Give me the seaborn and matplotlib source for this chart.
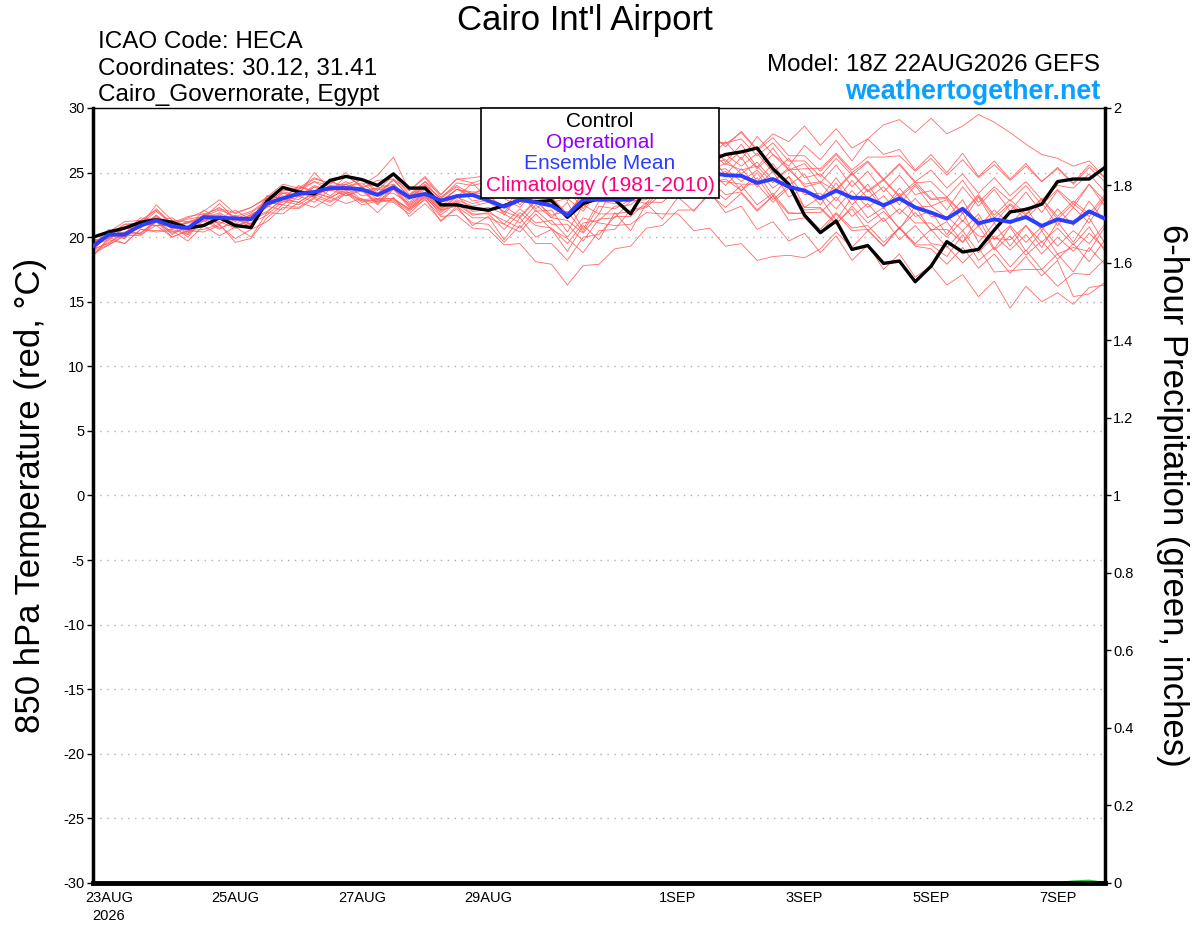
import pandas as pd
import matplotlib
matplotlib.use('Agg')
import matplotlib.pyplot as plt
from matplotlib.patches import Rectangle
import seaborn as sns

# 6-hourly GEFS run, 18Z 22AUG2026 out to 16 days
times = pd.date_range('2026-08-22 18:00', periods=65, freq='6h')

control = [20.0, 20.4, 20.7, 21.15, 21.35, 21.15, 20.7, 20.9, 21.5, 20.9, 20.75, 22.8, 23.85,
           23.5, 23.35, 24.4, 24.7, 24.46, 24.0, 24.9, 23.8, 23.8, 22.5, 22.5, 22.26, 22.08,
           22.44, 22.88, 22.75, 22.83, 21.54, 22.6, 23.0, 22.9, 21.8, 23.8, 24.6, 25.2, 25.6,
           25.9, 26.4, 26.6, 26.9, 25.3, 24.1, 21.7, 20.35, 21.25, 19.05, 19.35, 17.97, 18.15,
           16.55, 17.75, 19.65, 18.85, 19.05, 20.55, 21.95, 22.15, 22.55, 24.3, 24.5, 24.5, 25.4]

ens_mean = [19.3, 20.2, 20.2, 20.9, 21.3, 20.85, 20.7, 21.55, 21.5, 21.45, 21.4, 22.6, 23.0,
            23.35, 23.5, 23.8, 23.8, 23.7, 23.27, 23.86, 23.1, 23.35, 22.83, 23.17, 23.27, 22.83,
            22.36, 22.88, 22.7, 22.44, 21.7, 22.9, 22.9, 22.9, 22.9, 23.6, 24.2, 24.7, 25.0,
            25.0, 24.8, 24.75, 24.2, 24.5, 23.9, 23.6, 23.0, 23.6, 23.06, 23.0, 22.47, 23.0,
            22.3, 21.9, 21.43, 22.2, 21.07, 21.38, 21.18, 21.56, 20.87, 21.38, 21.12, 22.0, 21.43]

members = {
    'm01': [19.0, 20.3, 20.2, 21.3, 21.5, 20.8, 21.1, 21.7, 22.3, 21.4, 21.6, 22.5, 23.6,
            23.7, 24.5, 24.2, 24.8, 23.9, 24.1, 23.8, 23.2, 24.3, 22.8, 23.1, 24.2, 22.9,
            23.4, 24.6, 23.3, 24.5, 22.8, 24.9, 23.7, 25.6, 24.3, 26.2, 25.0, 26.9, 27.5,
            26.1, 27.4, 26.0, 27.8, 26.4, 25.5, 27.1, 26.0, 27.5, 25.9, 27.6, 28.7, 29.1,
            28.1, 29.2, 28.0, 28.6, 29.5, 28.9, 28.1, 27.2, 26.4, 26.1, 25.5, 25.9, 24.6],
    'm02': [18.7, 19.4, 20.2, 20.1, 21.2, 20.0, 20.5, 20.4, 20.9, 19.9, 20.6, 21.2, 22.3,
            22.2, 23.0, 22.4, 23.4, 22.5, 22.8, 22.7, 21.8, 23.0, 21.2, 22.4, 20.9, 21.6,
            19.8, 21.5, 20.0, 20.6, 18.9, 20.9, 19.8, 21.9, 20.5, 22.6, 21.4, 23.1, 22.0,
            23.5, 21.9, 22.4, 20.6, 21.2, 19.7, 20.3, 18.8, 20.1, 18.2, 19.4, 17.5, 18.7,
            16.9, 17.8, 16.3, 17.1, 15.4, 16.6, 14.5, 16.2, 15.0, 15.7, 14.8, 16.1, 16.3],
    'm03': [19.6, 20.2, 21.0, 21.1, 22.2, 21.0, 21.5, 22.0, 22.9, 21.8, 22.3, 23.1, 24.1,
            23.8, 24.6, 24.1, 25.0, 23.8, 24.4, 24.5, 23.6, 24.6, 23.1, 24.0, 23.3, 23.5,
            21.7, 23.4, 22.0, 22.1, 20.4, 22.5, 21.8, 24.1, 23.5, 25.3, 24.6, 26.3, 24.9,
            26.4, 24.8, 26.2, 24.3, 25.7, 24.0, 24.9, 23.0, 24.6, 22.9, 24.1, 22.3, 23.4,
            21.6, 22.0, 20.2, 21.9, 19.6, 21.1, 19.3, 20.9, 19.2, 21.2, 19.6, 21.5, 19.5],
    'm04': [18.5, 20.0, 19.5, 20.6, 20.5, 20.6, 20.2, 21.3, 20.6, 21.4, 21.0, 22.4, 22.1,
            23.2, 22.7, 23.7, 23.2, 23.6, 22.5, 23.7, 22.3, 23.3, 22.0, 22.9, 22.4, 22.7,
            22.0, 21.5, 22.8, 21.7, 22.0, 20.4, 22.4, 22.2, 22.9, 22.6, 24.2, 23.7, 25.0,
            24.4, 25.1, 23.6, 25.0, 23.2, 24.7, 22.3, 23.1, 21.3, 23.1, 21.5, 22.3, 20.6,
            22.4, 20.5, 21.2, 19.6, 21.5, 19.1, 20.8, 18.9, 20.5, 18.7, 19.2, 18.9, 20.8],
    'm05': [19.9, 20.4, 21.2, 21.3, 22.1, 21.1, 21.6, 21.8, 22.2, 21.9, 22.3, 23.0, 23.9,
            23.7, 24.3, 23.6, 24.7, 24.0, 24.8, 26.2, 23.6, 24.7, 23.3, 24.5, 24.2, 24.6,
            23.4, 24.7, 23.4, 24.5, 23.1, 24.9, 24.4, 26.0, 24.6, 26.1, 25.6, 27.3, 26.0,
            27.4, 25.8, 27.2, 25.4, 26.9, 25.2, 25.7, 24.2, 25.6, 23.9, 25.1, 23.5, 24.8,
            23.3, 23.6, 22.1, 23.9, 22.4, 23.7, 22.0, 23.5, 21.9, 23.6, 22.3, 24.1, 22.4],
    'm06': [19.1, 20.1, 19.9, 21.0, 20.9, 20.9, 20.0, 21.5, 20.7, 21.1, 20.6, 22.7, 22.5,
            23.4, 23.1, 23.9, 23.4, 23.7, 22.6, 23.8, 22.4, 23.4, 22.1, 23.1, 22.6, 22.9,
            22.4, 21.6, 22.9, 21.5, 22.7, 20.6, 22.8, 22.6, 23.0, 23.1, 24.4, 24.2, 25.5,
            25.2, 25.7, 25.2, 25.5, 24.2, 25.4, 23.9, 24.2, 22.8, 24.4, 23.0, 23.9, 22.5,
            24.0, 22.4, 22.9, 21.2, 23.1, 21.1, 22.5, 21.4, 22.7, 20.9, 22.3, 21.1, 23.0],
    'm07': [19.5, 20.0, 20.3, 20.9, 22.5, 21.3, 21.2, 21.5, 22.6, 21.4, 21.9, 22.7, 23.5,
            23.3, 25.0, 23.7, 24.3, 23.6, 23.8, 24.1, 23.0, 24.0, 22.7, 23.7, 23.2, 23.2,
            22.3, 23.6, 22.6, 22.8, 21.7, 23.5, 23.2, 23.5, 23.7, 24.8, 24.8, 26.0, 24.9,
            25.2, 24.0, 25.3, 23.9, 25.1, 23.1, 23.8, 22.5, 24.2, 22.5, 23.7, 22.2, 23.8,
            22.3, 22.4, 21.5, 22.9, 20.8, 22.1, 21.0, 22.3, 20.5, 22.2, 20.9, 22.8, 21.2],
    'm08': [19.0, 19.6, 20.3, 20.3, 21.3, 20.4, 20.7, 21.0, 21.4, 20.9, 21.3, 21.9, 23.0,
            22.7, 23.5, 23.0, 23.8, 22.9, 23.0, 23.0, 22.1, 22.9, 21.6, 21.7, 20.7, 20.6,
            19.4, 19.5, 18.1, 17.9, 16.3, 17.8, 17.9, 19.1, 19.3, 20.7, 20.9, 22.1, 22.1,
            23.3, 22.3, 23.4, 22.0, 23.2, 21.8, 21.9, 21.9, 23.1, 21.6, 22.6, 21.2, 22.2,
            21.1, 21.1, 20.0, 21.3, 20.1, 19.9, 19.8, 20.9, 19.6, 20.7, 19.4, 20.8, 18.9],
    'm09': [19.6, 20.1, 20.8, 20.8, 21.7, 20.8, 21.2, 21.4, 21.9, 21.2, 21.7, 22.4, 23.4,
            23.2, 24.0, 23.6, 23.9, 23.5, 23.7, 23.7, 22.9, 23.8, 22.8, 23.7, 23.4, 23.8,
            23.6, 22.5, 23.9, 22.8, 23.7, 22.2, 23.9, 23.6, 24.7, 24.6, 25.7, 25.5, 26.5,
            25.7, 26.0, 24.9, 25.8, 24.4, 25.2, 24.1, 24.3, 23.6, 24.9, 23.5, 24.4, 23.1,
            24.1, 22.9, 23.0, 21.8, 23.2, 21.5, 22.6, 21.7, 22.9, 21.4, 22.6, 21.6, 23.1],
    'm10': [18.9, 19.4, 20.1, 20.2, 20.9, 20.0, 20.5, 20.6, 21.0, 19.6, 19.9, 21.5, 22.5,
            22.3, 23.1, 22.7, 23.4, 22.7, 22.9, 22.8, 22.0, 23.2, 21.7, 22.7, 21.8, 21.8,
            20.6, 21.9, 20.9, 20.7, 19.5, 21.1, 21.3, 22.4, 22.5, 23.5, 23.1, 24.2, 24.0,
            24.4, 23.3, 23.5, 22.1, 23.2, 21.3, 21.5, 20.3, 21.8, 20.5, 20.6, 19.3, 20.8,
            19.4, 19.4, 18.5, 20.2, 18.2, 19.2, 17.7, 19.0, 17.5, 18.7, 17.3, 19.2, 17.9],
    'm11': [19.2, 20.4, 20.0, 21.1, 20.9, 21.1, 20.3, 21.7, 21.0, 21.7, 21.0, 22.8, 22.7,
            23.6, 23.2, 24.0, 23.6, 23.9, 22.9, 24.1, 22.7, 23.7, 22.4, 23.3, 23.2, 24.2,
            23.9, 24.9, 23.8, 24.8, 23.6, 25.1, 25.1, 26.2, 26.0, 27.1, 27.1, 28.2, 27.7,
            27.5, 27.2, 28.1, 26.7, 27.7, 26.3, 26.3, 25.1, 26.4, 25.0, 25.9, 24.5, 25.7,
            24.3, 25.2, 23.8, 24.9, 23.4, 24.6, 23.2, 24.3, 22.9, 24.0, 23.8, 24.9, 23.5],
    'm12': [19.8, 19.9, 20.7, 20.7, 21.6, 20.6, 21.2, 21.3, 21.7, 21.3, 21.7, 22.3, 23.2,
            22.9, 23.9, 23.2, 24.1, 23.2, 23.4, 23.4, 22.6, 23.5, 22.2, 23.2, 22.1, 22.3,
            21.8, 21.1, 22.5, 21.5, 21.3, 20.3, 21.8, 21.8, 22.0, 22.3, 23.4, 23.5, 24.5,
            24.2, 24.5, 23.6, 24.6, 22.9, 24.0, 22.3, 22.3, 21.1, 22.2, 20.5, 21.5, 19.8,
            20.9, 19.5, 19.3, 18.0, 19.2, 17.3, 17.4, 17.5, 17.5, 16.2, 17.2, 17.1, 18.3],
    'm13': [19.0, 20.3, 19.9, 21.2, 21.2, 21.3, 20.4, 21.8, 21.4, 21.6, 20.9, 23.2, 23.0,
            24.0, 23.5, 24.4, 23.7, 24.5, 23.4, 24.4, 23.2, 24.1, 23.0, 23.9, 22.8, 23.0,
            21.9, 23.4, 22.2, 23.1, 21.8, 23.3, 23.1, 24.2, 24.1, 24.4, 24.4, 25.5, 25.5,
            26.6, 25.6, 26.7, 25.3, 26.4, 25.2, 25.3, 25.3, 26.5, 25.2, 26.2, 26.2, 26.3,
            25.1, 26.1, 24.8, 26.0, 24.6, 25.6, 24.4, 25.5, 24.3, 25.3, 24.1, 25.4, 24.3],
    'm14': [19.5, 19.9, 20.4, 20.3, 21.3, 20.2, 20.9, 20.8, 21.5, 20.7, 21.4, 22.0, 22.9,
            22.7, 23.4, 23.1, 23.6, 22.8, 22.8, 22.9, 22.2, 23.2, 22.1, 22.4, 21.5, 21.5,
            21.0, 20.4, 21.8, 20.6, 19.9, 18.8, 20.5, 20.6, 22.1, 22.4, 23.9, 23.7, 25.1,
            24.3, 24.3, 24.1, 24.1, 22.7, 23.8, 22.1, 22.2, 21.0, 22.4, 21.1, 22.0, 20.7,
            21.9, 20.6, 20.6, 19.6, 20.9, 19.0, 20.1, 18.6, 19.7, 18.3, 19.5, 18.1, 19.8],
    'm15': [19.1, 19.5, 20.4, 20.3, 21.2, 20.3, 20.8, 20.9, 21.2, 20.7, 21.1, 21.7, 22.8,
            22.5, 23.3, 22.8, 23.5, 22.8, 22.9, 23.0, 22.2, 23.1, 21.9, 22.8, 22.0, 22.1,
            21.0, 22.2, 21.1, 21.3, 20.0, 21.5, 21.1, 20.9, 21.0, 21.9, 21.8, 21.8, 20.5,
            20.7, 19.3, 19.5, 18.2, 18.5, 18.6, 18.4, 19.1, 20.4, 19.2, 20.5, 19.3, 20.7,
            19.5, 20.6, 19.2, 20.5, 18.8, 20.1, 19.0, 20.2, 18.7, 20.0, 18.9, 20.3, 19.1],
    'm16': [19.7, 20.1, 21.0, 21.0, 22.0, 21.0, 21.4, 21.6, 22.1, 21.6, 22.0, 22.8, 23.8,
            23.5, 24.3, 24.0, 24.1, 24.5, 23.6, 24.8, 23.3, 24.3, 23.3, 24.5, 24.6, 24.8,
            23.7, 25.1, 24.0, 24.9, 23.5, 25.0, 24.8, 25.9, 24.9, 26.1, 26.1, 27.3, 27.3,
            27.4, 27.3, 27.6, 26.3, 27.3, 25.9, 25.9, 24.7, 26.1, 24.8, 25.8, 24.4, 25.6,
            24.2, 24.3, 23.1, 24.4, 22.7, 23.9, 22.8, 24.0, 22.5, 23.7, 22.6, 24.1, 22.8],
    'm17': [18.6, 19.8, 19.5, 20.6, 20.4, 20.5, 19.7, 20.9, 20.1, 20.8, 20.0, 21.9, 21.8,
            22.7, 22.3, 23.1, 22.6, 23.0, 21.9, 23.1, 21.6, 22.6, 21.3, 22.2, 21.1, 21.0,
            19.6, 20.9, 19.5, 19.5, 18.2, 20.0, 20.2, 21.6, 21.6, 22.7, 22.7, 23.7, 23.6,
            23.9, 22.9, 24.0, 22.5, 23.4, 21.9, 21.8, 20.6, 21.9, 20.7, 20.9, 19.6, 20.7,
            19.3, 19.1, 17.9, 19.2, 17.6, 18.7, 17.2, 18.5, 17.0, 18.2, 15.4, 15.6, 16.5],
    'm18': [19.4, 19.8, 20.7, 20.7, 21.7, 20.7, 21.1, 21.2, 21.8, 21.0, 21.8, 22.3, 23.4,
            23.1, 23.9, 23.6, 24.1, 23.6, 23.8, 23.8, 23.0, 23.9, 22.7, 23.7, 23.5, 23.5,
            23.0, 22.3, 23.7, 22.7, 23.0, 22.0, 23.7, 23.5, 24.6, 24.5, 25.7, 25.6, 26.6,
            26.4, 26.4, 25.5, 26.5, 25.0, 26.1, 24.6, 24.9, 23.7, 25.0, 23.6, 24.5, 23.2,
            24.3, 23.0, 23.1, 21.9, 23.3, 21.7, 22.9, 21.8, 23.0, 21.6, 22.8, 21.8, 23.3],
    'm19': [19.1, 20.3, 20.0, 21.1, 20.9, 21.0, 20.2, 21.6, 21.1, 21.5, 20.7, 22.7, 22.5,
            23.5, 23.1, 23.9, 23.2, 23.7, 22.7, 23.9, 22.5, 23.4, 22.3, 22.6, 21.7, 21.9,
            21.3, 20.7, 22.1, 21.0, 21.0, 19.7, 21.4, 21.5, 22.8, 22.9, 24.2, 24.2, 25.3,
            25.1, 25.3, 24.3, 25.2, 23.8, 24.7, 23.3, 23.4, 22.2, 23.6, 22.3, 23.2, 21.8,
            23.0, 21.6, 21.6, 20.5, 21.8, 19.8, 20.9, 19.6, 20.8, 19.3, 20.5, 19.5, 21.0],
    'm20': [19.4, 20.6, 20.3, 21.5, 21.3, 21.5, 20.7, 22.1, 21.4, 22.1, 21.3, 23.2, 23.0,
            23.9, 23.5, 24.3, 23.9, 24.2, 23.3, 24.5, 23.1, 24.0, 23.0, 24.2, 24.0, 24.3,
            23.2, 24.5, 23.4, 24.3, 23.0, 24.5, 24.3, 25.4, 25.4, 26.6, 26.5, 27.6, 27.2,
            28.1, 27.0, 28.2, 26.8, 28.0, 27.4, 28.6, 27.1, 28.4, 26.9, 27.6, 26.4, 26.8,
            25.2, 26.4, 25.0, 26.5, 24.7, 25.9, 24.5, 25.7, 24.3, 25.4, 24.2, 25.6, 24.6],
}

# 6-hour precipitation, inches (essentially dry)
precip = [0.0] * 59 + [0.002, 0.0, 0.0, 0.004, 0.006, 0.0]

date_ticks = ['2026-08-23', '2026-08-25', '2026-08-27', '2026-08-29',
              '2026-09-01', '2026-09-03', '2026-09-05', '2026-09-07']
date_labels = ['23AUG\n2026', '25AUG', '27AUG', '29AUG', '1SEP', '3SEP', '5SEP', '7SEP']
temp_ticks = list(range(-30, 31, 5))
precip_ticks = [0, 0.2, 0.4, 0.6, 0.8, 1.0, 1.2, 1.4, 1.6, 1.8, 2.0]
precip_labels = ['0', '0.2', '0.4', '0.6', '0.8', '1', '1.2', '1.4', '1.6', '1.8', '2']

sns.set_style('white')
plt.rcParams['font.family'] = ['Liberation Sans', 'DejaVu Sans']
plt.rcParams.update({'text.color': 'black', 'axes.labelcolor': 'black',
                     'xtick.color': 'black', 'ytick.color': 'black'})

ens_df = pd.DataFrame(members, index=times).reset_index(names='time')
ens_df = ens_df.melt(id_vars='time', var_name='member', value_name='temp')
main_df = pd.DataFrame({'time': times, 'control': control, 'mean': ens_mean, 'precip': precip})

fig = plt.figure(figsize=(12, 9.27), dpi=100)
ax = fig.add_axes([0.0775, 0.0475, 0.8433, 0.836])
ax2 = ax.twinx()
# temperature axes on top so its frame hides the zero precip line
ax.set_zorder(ax2.get_zorder() + 1)
ax.patch.set_visible(False)

sns.lineplot(data=main_df, x='time', y='precip', color='#33cc33', lw=1.5, ax=ax2)
ax2.set_ylim(0, 2)
ax2.set_yticks(precip_ticks)
ax2.set_yticklabels(precip_labels, fontsize=10.5)
ax2.tick_params(axis='y', direction='out', length=4, width=1, pad=2)
ax2.set_ylabel('6-hour Precipitation (green, inches)', fontsize=25, rotation=270)
ax2.yaxis.set_label_coords(1.083, 0.5)
for side in ax2.spines:
    ax2.spines[side].set_visible(False)

for t in range(-25, 30, 5):
    ax.axhline(t, color='#b0b0b0', lw=1.0, ls=(0, (1, 4)), zorder=0)

sns.lineplot(data=ens_df, x='time', y='temp', units='member', estimator=None,
             color='#ff5a5a', lw=0.6, alpha=0.9, ax=ax, legend=False, zorder=2)
sns.lineplot(data=main_df, x='time', y='control', color='black', lw=2.4, ax=ax, zorder=3)
sns.lineplot(data=main_df, x='time', y='mean', color='#2b3dff', lw=2.8, ax=ax, zorder=4)

ax.set_xlim(times[0], times[-1])
ax.set_ylim(-30, 30)
ax.set_yticks(temp_ticks)
ax.set_yticklabels([str(t) for t in temp_ticks], fontsize=10.5)
ax.set_xticks(pd.to_datetime(date_ticks))
ax.set_xticklabels(date_labels, fontsize=10.5, linespacing=1.3)
ax.tick_params(axis='both', direction='out', length=4, width=1, pad=2, color='black')
ax.set_xlabel('')
ax.set_ylabel('850 hPa Temperature (red, °C)', fontsize=25)
ax.yaxis.set_label_coords(-0.045, 0.5)
for side, lw in [('left', 2.5), ('bottom', 3.5), ('right', 2.5), ('top', 1.0)]:
    ax.spines[side].set_linewidth(lw)
    ax.spines[side].set_color('black')

# legend box drawn over the lines
ax.add_patch(Rectangle((0.3834, 0.8839), 0.2352, 0.1161, transform=ax.transAxes,
                       facecolor='white', edgecolor='black', lw=1.2, zorder=10,
                       clip_on=False))
legend_items = [('Control', 'black', 0.9832), ('Operational', '#8f00ff', 0.9561),
                ('Ensemble Mean', '#2b3dff', 0.929), ('Climatology (1981-2010)', '#ff0080', 0.9006)]
for label, colour, ypos in legend_items:
    ax.text(0.501, ypos, label, color=colour, fontsize=15, ha='center', va='center',
            transform=ax.transAxes, zorder=11)

fig.text(0.4875, 0.9775, "Cairo Int'l Airport", fontsize=25, ha='center', va='center')
fig.text(0.0817, 0.9545, 'ICAO Code: HECA', fontsize=17.5, va='center')
fig.text(0.0817, 0.9254, 'Coordinates: 30.12, 31.41', fontsize=17.5, va='center')
fig.text(0.0817, 0.8974, 'Cairo_Governorate, Egypt', fontsize=17.5, va='center')
fig.text(0.9167, 0.930, 'Model: 18Z 22AUG2026 GEFS', fontsize=17.4, ha='right', va='center')
fig.text(0.9167, 0.9009, 'weathertogether.net', fontsize=19.4, fontweight='bold',
         color='#0aa0ff', ha='right', va='center')

fig.savefig('out.png', dpi=100)
